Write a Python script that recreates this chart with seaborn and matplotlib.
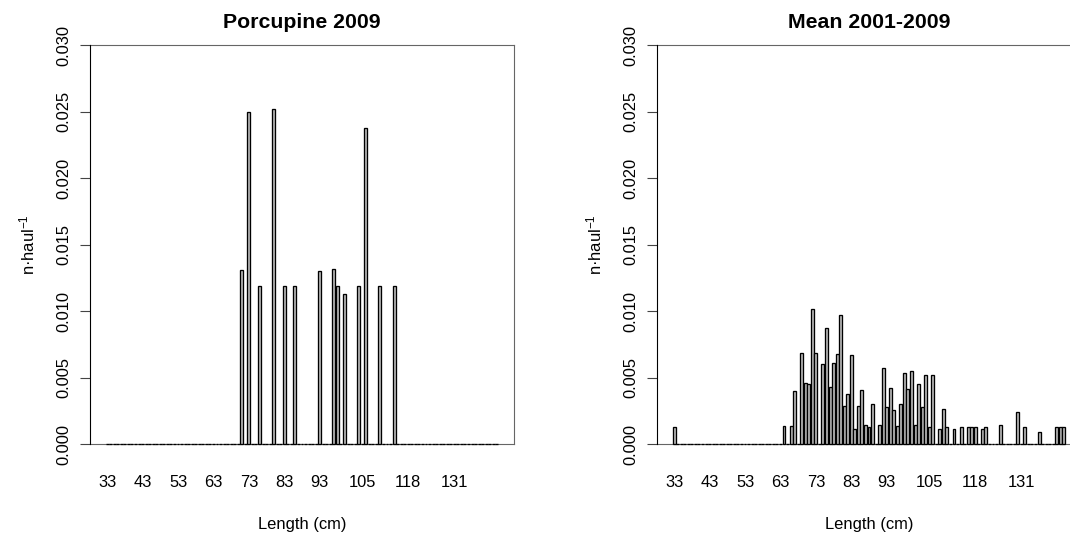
import numpy as np
import pandas as pd
import matplotlib
matplotlib.use("Agg")
import matplotlib.pyplot as plt
import seaborn as sns

# ---------------- data ----------------
length_classes = list(range(33, 144))           # length classes (cm), one bar each
tick_labels = [33, 43, 53, 63, 73, 83, 93, 105, 118, 131]
y_ticks = [0.000, 0.005, 0.010, 0.015, 0.020, 0.025, 0.030]

porc_lengths = [71, 73, 76, 80, 83, 86, 93, 97, 98, 100, 104, 106, 110, 114]
porc_values = [0.0131, 0.0250, 0.0119, 0.0252, 0.0119, 0.0119, 0.0130, 0.0132,
               0.0119, 0.0113, 0.0119, 0.0238, 0.0119, 0.0119]

mean_lengths = [33, 64, 66, 67, 69, 70, 71, 72, 73, 75, 76, 77, 78, 79, 80, 81, 82, 83,
                84, 85, 86, 87, 88, 89, 91, 92, 93, 94, 95, 96, 97, 98, 99, 100, 101,
                102, 103, 104, 105, 106, 108, 109, 110, 112, 114, 116, 117, 118, 120,
                121, 125, 130, 132, 136, 141, 142, 143]
mean_values = [0.00127, 0.00139, 0.00139, 0.00400, 0.00686, 0.00463, 0.00450, 0.01018,
               0.00686, 0.00605, 0.00873, 0.00430, 0.00613, 0.00678, 0.00972, 0.00291,
               0.00377, 0.00668, 0.00114, 0.00291, 0.00408, 0.00142, 0.00132, 0.00301,
               0.00142, 0.00577, 0.00284, 0.00425, 0.00258, 0.00139, 0.00301, 0.00537,
               0.00418, 0.00552, 0.00147, 0.00450, 0.00284, 0.00519, 0.00127, 0.00519,
               0.00114, 0.00266, 0.00127, 0.00114, 0.00129, 0.00129, 0.00129, 0.00129,
               0.00114, 0.00129, 0.00142, 0.00240, 0.00129, 0.00095, 0.00129, 0.00129,
               0.00129]

titles = ["Porcupine 2009", "Mean 2001-2009"]
x_title = "Length (cm)"
y_title = "n\u00b7haul$^{\\mathregular{-1}}$"

# ---------------- style ----------------
sns.set_style("white")
plt.rcParams["font.family"] = ["Liberation Sans", "DejaVu Sans"]
plt.rcParams["mathtext.default"] = "regular"
plt.rcParams["text.color"] = "black"
plt.rcParams["xtick.labelcolor"] = "black"
plt.rcParams["ytick.labelcolor"] = "black"

W, H = 1070, 537
fig = plt.figure(figsize=(W / 100, H / 100), dpi=100)
fig.patch.set_facecolor("white")

BASE = 11.9
TITLE = 15.3
px = 0.72  # points per pixel

panels = [(porc_lengths, porc_values), (mean_lengths, mean_values)]
x_offsets = [90, 657]
ax_w, ax_top, ax_bot = 424, 45.3, 444.3

for k, (lens, vals) in enumerate(panels):
    x0 = x_offsets[k]
    lookup = dict(zip(lens, vals))
    full = [lookup.get(l, 0.0) for l in length_classes]
    df = pd.DataFrame({"length": [str(l) for l in length_classes], "value": full})

    ax = fig.add_axes([x0 / W, (H - ax_bot) / H, ax_w / W, (ax_bot - ax_top) / H])
    sns.barplot(data=df, x="length", y="value", order=df["length"].tolist(),
                color="#bebebe", saturation=1, width=1 / 1.2, edgecolor="black",
                linewidth=0.95, errorbar=None, ax=ax)
    for p in ax.patches:
        p.set_clip_on(False)
        p.set_zorder(3)

    n = len(length_classes)
    ext = 0.04 * ((n - 1) + 1 / 1.2)
    ax.set_xlim(-1 / 2.4 - ext, n - 1 + 1 / 2.4 + ext)
    ax.set_ylim(0, 0.03)

    # x labels (no ticks)
    pos = [length_classes.index(t) for t in tick_labels]
    ax.set_xticks(pos)
    ax.set_xticklabels([str(t) for t in tick_labels], fontsize=BASE, color="black")
    ax.tick_params(axis="x", length=0, pad=22)

    # y axis
    ax.set_yticks(y_ticks)
    ax.set_yticklabels([f"{v:.3f}" for v in y_ticks], fontsize=BASE, color="black")
    ax.tick_params(axis="y", length=10 * px, width=0.8, color="#444444", pad=6,
                   left=True)
    for lab in ax.get_yticklabels():
        lab.set_rotation(90)
        lab.set_va("center")

    ax.set_xlabel("")
    ax.set_ylabel("")
    for side in ["top", "right", "bottom"]:
        ax.spines[side].set_visible(True)
        ax.spines[side].set_color("#666666")
        ax.spines[side].set_linewidth(0.8)
    ax.spines["left"].set_color("black")
    ax.spines["left"].set_linewidth(0.8)
    ax.spines["left"].set_zorder(4)
    ax.grid(False)

    cx = x0 + ax_w / 2
    fig.text(cx / W, 1 - 22.5 / H, titles[k], ha="center", va="center",
             fontsize=TITLE, fontweight="bold", color="black")
    fig.text(cx / W, 1 - 525 / H, x_title, ha="center", va="center", fontsize=BASE,
             color="black")
    fig.text((x0 - 63) / W, 1 - ((ax_top + ax_bot) / 2) / H, y_title, ha="center",
             va="center", rotation=90, fontsize=BASE, color="black")

fig.savefig("out.png", dpi=100, facecolor="white")
